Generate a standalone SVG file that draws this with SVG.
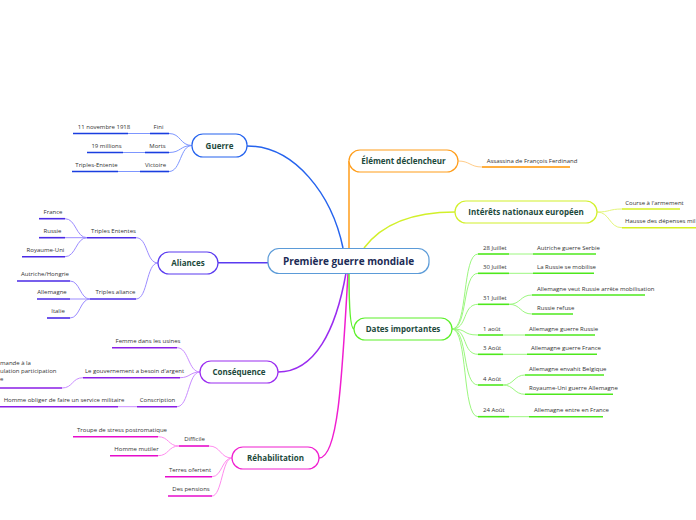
<svg xmlns="http://www.w3.org/2000/svg" width="696" height="520" viewBox="0 0 696 520">
<style>
text{font-family:"Open Sans","Noto Sans","Liberation Sans",sans-serif}
.leaf{font-size:6px;fill:#333}
.node{font-size:8px;font-weight:bold;fill:#1d4a3c;text-anchor:middle}
.box{fill:#fff;stroke-width:1.2}
.br{fill:none;stroke-width:1.5}
.cn{fill:none;stroke-width:1}
.ul{fill:none;stroke-width:1.6}
.m{text-anchor:middle}
</style>
<rect width="696" height="520" fill="#fff"/>
<g id="connectors">
  <path class="br" stroke="#2563ee" d="M343,248 C332,195 295,146 247,146"/>
  <path class="br" stroke="#5a3bf0" d="M268,262.7 L218,262.7"/>
  <path class="br" stroke="#9a2cf0" d="M346,273 C336,330 315,372 278,372"/>
  <path class="br" stroke="#f01ed0" d="M348,273 C342,380 338,458 319,458"/>
  <path class="br" stroke="#ff9d1a" d="M349,248 L349,161"/>
  <path class="br" stroke="#d2f02a" d="M364,248 C385,220 420,212 455,212"/>
  <path class="br" stroke="#5cf02a" d="M349,273 C349,300 350,329 354,329"/>
  <g stroke="#7d96ff">
    <path class="cn" d="M192,145.5 C180,145.5 181,133.5 169,133.5"/>
    <path class="cn" d="M192,145.5 C180,145.5 181,152.5 169,152.5"/>
    <path class="cn" d="M192,145.5 C180,145.5 181,171.5 169,171.5"/>
    <path class="cn" d="M150,133.5 L128,133.5"/>
    <path class="cn" d="M145,152.5 L123,152.5"/>
    <path class="cn" d="M140,171.5 L118,171.5"/>
  </g>
  <g stroke="#9c8cff">
    <path class="cn" d="M158,263 C146,263 148,237.7 136,237.7"/>
    <path class="cn" d="M158,263 C146,263 148,299 136,299"/>
    <path class="cn" d="M87,237.7 C76,237.7 76,218.7 65,218.7"/>
    <path class="cn" d="M87,237.7 L65,237.7"/>
    <path class="cn" d="M87,237.7 C76,237.7 76,256.7 65,256.7"/>
    <path class="cn" d="M90,299 C80,299 80,281 70,281"/>
    <path class="cn" d="M90,299 L70,299"/>
    <path class="cn" d="M90,299 C80,299 80,318 70,318"/>
  </g>
  <g stroke="#c98cff">
    <path class="cn" d="M200,372 C188,372 189,347.7 177,347.7"/>
    <path class="cn" d="M200,372 C190,372 190,377.7 180,377.7"/>
    <path class="cn" d="M200,372 C188,372 189,406.7 177,406.7"/>
    <path class="cn" d="M83,377.7 C72,377.7 73,388 62,388"/>
    <path class="cn" d="M137,406.7 L118,406.7"/>
  </g>
  <g stroke="#ff8cef">
    <path class="cn" d="M232,458 C220,458 221,446 209,446"/>
    <path class="cn" d="M232,458 C222,458 222,476.7 212,476.7"/>
    <path class="cn" d="M232,458 C222,458 222,496 212,496"/>
    <path class="cn" d="M179,446 C168,446 169,436.7 158,436.7"/>
    <path class="cn" d="M179,446 C168,446 169,455.7 158,455.7"/>
  </g>
  <path class="cn" stroke="#ffcc88" d="M458,161 C470,161 470,167 482,167"/>
  <g stroke="#e4f57a">
    <path class="cn" d="M597,212 C610,212 609,209 622,209"/>
    <path class="cn" d="M597,212 C610,212 609,227.7 622,227.7"/>
  </g>
  <g stroke="#9cf77f">
    <path class="cn" d="M452,329 C468,329 462,254 478,254"/>
    <path class="cn" d="M452,329 C468,329 462,273.3 478,273.3"/>
    <path class="cn" d="M452,329 C468,329 462,304.3 478,304.3"/>
    <path class="cn" d="M452,329 C468,329 462,335 478,335"/>
    <path class="cn" d="M452,329 C468,329 462,354.3 478,354.3"/>
    <path class="cn" d="M452,329 C468,329 462,385 478,385"/>
    <path class="cn" d="M452,329 C468,329 462,416.7 478,416.7"/>
    <path class="cn" d="M509,254 L533,254"/>
    <path class="cn" d="M509,273.3 L533,273.3"/>
    <path class="cn" d="M509,304.3 C521,304.3 520,295 532,295"/>
    <path class="cn" d="M509,304.3 C521,304.3 520,314 532,314"/>
    <path class="cn" d="M503,335 L525,335"/>
    <path class="cn" d="M503,354.3 L527,354.3"/>
    <path class="cn" d="M503,385 C514,385 514,375 525,375"/>
    <path class="cn" d="M503,385 C514,385 514,394.3 525,394.3"/>
    <path class="cn" d="M509,416.7 L529,416.7"/>
  </g>
</g>

<g id="central">
  <rect class="box" x="268" y="248.5" width="161" height="25" rx="11" stroke="#5b9bd8"/>
  <text x="348.5" y="264.6" text-anchor="middle" font-size="10" font-weight="bold" fill="#1b2b55">Première guerre mondiale</text>
</g>

<g id="guerre">
  <rect class="box" x="192" y="134" width="55" height="23" rx="11" stroke="#2563ee"/>
  <text class="node" x="219.5" y="148.5">Guerre</text>
  <g stroke="#1a3ee0">
    <path class="ul" d="M150,133.5 H169"/><path class="ul" d="M73,133.5 H128"/>
    <path class="ul" d="M145,152.5 H169"/><path class="ul" d="M87,152.5 H123"/>
    <path class="ul" d="M140,171.5 H169"/><path class="ul" d="M72,171.5 H118"/>
  </g>
  <text class="leaf m" x="158.5" y="128.7">Fini</text>
  <text class="leaf m" x="104" y="128.7">11 novembre 1918</text>
  <text class="leaf m" x="157.5" y="147.7">Morts</text>
  <text class="leaf m" x="106.5" y="147.7">19 millions</text>
  <text class="leaf m" x="155.5" y="166.7">Victoire</text>
  <text class="leaf m" x="96.5" y="166.7">Triples-Entente</text>
</g>

<g id="aliances">
  <rect class="box" x="158" y="252" width="60" height="22" rx="11" stroke="#5a3bf0"/>
  <text class="node" x="188" y="265.8">Aliances</text>
  <g stroke="#4a2ae6">
    <path class="ul" d="M87,237.7 H136"/><path class="ul" d="M90,299 H136"/>
    <path class="ul" d="M39,218.7 H65"/><path class="ul" d="M39,237.7 H65"/><path class="ul" d="M22,256.7 H65"/>
    <path class="ul" d="M17,281 H70"/><path class="ul" d="M37,299 H70"/><path class="ul" d="M47,318 H70"/>
  </g>
  <text class="leaf m" x="113.5" y="233">Triples Ententes</text>
  <text class="leaf m" x="115.5" y="294.3">Triples aliance</text>
  <text class="leaf m" x="53" y="214">France</text>
  <text class="leaf m" x="52.5" y="233">Russie</text>
  <text class="leaf m" x="45.5" y="252">Royaume-Uni</text>
  <text class="leaf m" x="45" y="276.3">Autriche/Hongrie</text>
  <text class="leaf m" x="52" y="294.3">Allemagne</text>
  <text class="leaf m" x="58" y="313.3">Italie</text>
</g>

<g id="consequence">
  <rect class="box" x="200" y="361" width="78" height="22" rx="11" stroke="#9a2cf0"/>
  <text class="node" x="239" y="374.8">Conséquence</text>
  <g stroke="#8a1ee6">
    <path class="ul" d="M112,347.7 H177"/><path class="ul" d="M83,377.7 H180"/><path class="ul" d="M137,406.7 H177"/>
    <path class="ul" d="M0,388 H62"/><path class="ul" d="M0,406.7 H118"/>
  </g>
  <text class="leaf m" x="148" y="343">Femme dans les usines</text>
  <text class="leaf m" x="134.5" y="373">Le gouvernement a besoin d'argent</text>
  <text class="leaf m" x="157.5" y="402">Conscription</text>
  <text class="leaf" x="0" y="364.5">mande à la</text>
  <text class="leaf" x="0" y="372.7">ulation participation</text>
  <text class="leaf" x="0" y="381">e</text>
  <text class="leaf m" x="64" y="402">Homme obliger de faire un service militaire</text>
</g>

<g id="rehabilitation">
  <rect class="box" x="232" y="447" width="87" height="22" rx="11" stroke="#f01ed0"/>
  <text class="node" x="275.5" y="460.8">Réhabilitation</text>
  <g stroke="#e60ccc">
    <path class="ul" d="M179,446 H209"/><path class="ul" d="M165,476.7 H212"/><path class="ul" d="M168,496 H212"/>
    <path class="ul" d="M73,436.7 H158"/><path class="ul" d="M110,455.7 H158"/>
  </g>
  <text class="leaf m" x="194.5" y="441">Difficile</text>
  <text class="leaf m" x="190" y="472">Terres ofertent</text>
  <text class="leaf m" x="191" y="491.3">Des pensions</text>
  <text class="leaf m" x="122" y="432">Troupe de stress postromatique</text>
  <text class="leaf m" x="136.5" y="451">Homme mutiler</text>
</g>

<g id="element">
  <rect class="box" x="349" y="150" width="109" height="22" rx="11" stroke="#ff9d1a"/>
  <text class="node" x="403.5" y="163.8">Élément déclencheur</text>
  <path class="ul" stroke="#ff9400" d="M482,167 H570"/>
  <text class="leaf m" x="532" y="162.5">Assassina de François Ferdinand</text>
</g>

<g id="interets">
  <rect class="box" x="455" y="201" width="142" height="22" rx="11" stroke="#d2f02a"/>
  <text class="node" x="526" y="214.8">Intérêts nationaux européen</text>
  <g stroke="#d6f020">
    <path class="ul" d="M622,209 H680"/><path class="ul" d="M622,227.7 H696"/>
  </g>
  <text class="leaf m" x="654.5" y="204.5">Course à l'armement</text>
  <text class="leaf" x="625" y="223.3">Hausse des dépenses mil</text>
</g>

<g id="dates">
  <rect class="box" x="354" y="318" width="98" height="22" rx="11" stroke="#5cf02a"/>
  <text class="node" x="403" y="331.8">Dates importantes</text>
  <g stroke="#4ee81c">
    <path class="ul" d="M478,254 H509"/><path class="ul" d="M533,254 H596"/>
    <path class="ul" d="M478,273.3 H509"/><path class="ul" d="M533,273.3 H594"/>
    <path class="ul" d="M478,304.3 H509"/><path class="ul" d="M532,295 H645"/><path class="ul" d="M532,314 H573"/>
    <path class="ul" d="M478,335 H503"/><path class="ul" d="M525,335 H595"/>
    <path class="ul" d="M478,354.3 H503"/><path class="ul" d="M527,354.3 H597"/>
    <path class="ul" d="M478,385 H503"/><path class="ul" d="M525,375 H604"/><path class="ul" d="M525,394.3 H613"/>
    <path class="ul" d="M478,416.7 H509"/><path class="ul" d="M529,416.7 H603"/>
  </g>
  <text class="leaf" x="483" y="249.5">28 Juillet</text>
  <text class="leaf" x="537" y="249.5">Autriche guerre Serbie</text>
  <text class="leaf" x="483" y="268.8">30 Juillet</text>
  <text class="leaf" x="537" y="268.8">La Russie se mobilise</text>
  <text class="leaf" x="483" y="299.8">31 Juillet</text>
  <text class="leaf" x="537" y="290.5">Allemagne veut Russie arrête mobilisation</text>
  <text class="leaf" x="537" y="309.5">Russie refuse</text>
  <text class="leaf" x="483" y="330.5">1 août</text>
  <text class="leaf" x="529" y="330.5">Allemagne guerre Russie</text>
  <text class="leaf" x="483" y="349.8">3 Août</text>
  <text class="leaf" x="531" y="349.8">Allemagne guerre France</text>
  <text class="leaf" x="483" y="380.5">4 Août</text>
  <text class="leaf" x="529" y="370.5">Allemagne envahit Belgique</text>
  <text class="leaf" x="529" y="389.8">Royaume-Uni guerre Allemagne</text>
  <text class="leaf" x="483" y="412.2">24 Août</text>
  <text class="leaf" x="534" y="412.2">Allemagne entre en France</text>
</g>
</svg>
